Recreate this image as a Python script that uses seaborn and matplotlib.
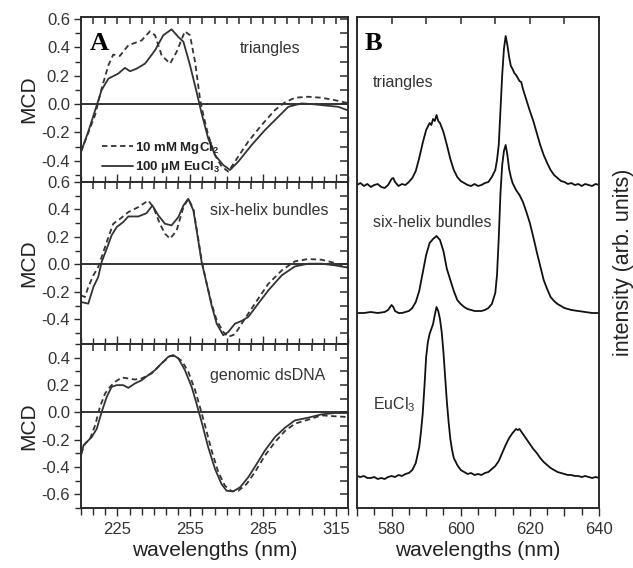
import numpy as np
import pandas as pd
import matplotlib
matplotlib.use("Agg")
import matplotlib.pyplot as plt
import seaborn as sns
from matplotlib.ticker import MultipleLocator, FixedLocator, FormatStrFormatter, FuncFormatter, NullFormatter

# ---------------- data: panel A (MCD) ----------------
tri_mg_wl = [210, 215.8, 218.5, 221.3, 223.3, 226, 229.5, 235, 238.4, 240.5, 243.2, 246.7, 249.4, 252.8,
             254.9, 257, 259, 260.4, 262.4, 265.2, 267.9, 270.7, 273.4, 278.9, 284.4, 289.9, 294, 298.1,
             303.6, 309.1, 314.6, 318.7, 320]
tri_mg_mcd = [-0.336, -0.077, 0.11, 0.275, 0.35, 0.34, 0.415, 0.45, 0.514, 0.486, 0.345, 0.286, 0.369, 0.514,
              0.486, 0.298, 0.04, -0.077, -0.218, -0.36, -0.44, -0.477, -0.406, -0.265, -0.148, -0.042, 0.012,
              0.045, 0.052, 0.045, 0.028, 0.012, 0.008]
tri_eu_wl = [210, 213, 216.5, 218.5, 221.3, 225.4, 228.1, 230.2, 232.9, 236.4, 240.5, 243.9, 247.3, 250.1,
             252.2, 254.9, 257.6, 259.7, 262.4, 265.2, 268.6, 271.4, 274.8, 280.3, 285.8, 291.3, 295.4,
             300.9, 306.4, 311.9, 316, 320]
tri_eu_mcd = [-0.336, -0.195, -0.007, 0.1, 0.18, 0.216, 0.256, 0.232, 0.25, 0.286, 0.38, 0.486, 0.528, 0.474,
              0.44, 0.275, 0.087, -0.066, -0.242, -0.36, -0.43, -0.465, -0.406, -0.289, -0.183, -0.089,
              -0.019, 0.005, -0.002, -0.012, -0.019, -0.045]

six_mg_wl = [210, 211.6, 213, 215.1, 217.1, 219.2, 221.3, 223.3, 226.1, 229.5, 233.6, 237.7, 239.8, 242.5,
             244.6, 246.7, 249.4, 252.2, 254.2, 256.3, 258.3, 259.7, 261.8, 263.8, 265.9, 268.6, 270.7,
             273.4, 276.2, 278.9, 283, 287.2, 292.7, 298.1, 303.6, 309.1, 314.6, 320]
six_mg_mcd = [-0.225, -0.238, -0.165, -0.08, -0.019, 0.09, 0.199, 0.296, 0.332, 0.381, 0.417, 0.465, 0.417,
              0.296, 0.223, 0.187, 0.247, 0.417, 0.478, 0.405, 0.187, 0.029, -0.141, -0.286, -0.407, -0.492,
              -0.528, -0.509, -0.432, -0.359, -0.25, -0.141, -0.044, 0.022, 0.039, 0.034, 0.01, -0.024]
six_eu_wl = [210, 213, 215.1, 217.1, 218.5, 220.6, 222.6, 224.7, 227.4, 229.5, 233.6, 237, 239.4, 241.9,
             244.6, 247.3, 250.1, 252.2, 254.2, 256.3, 258.3, 259.7, 261.8, 263.8, 265.9, 268.6, 270.7,
             273.4, 276.2, 278.9, 283, 287.2, 292.7, 298.1, 303.6, 309.1, 314.6, 320]
six_eu_mcd = [-0.274, -0.286, -0.165, -0.092, 0.017, 0.114, 0.211, 0.272, 0.308, 0.349, 0.349, 0.373, 0.429,
              0.356, 0.296, 0.284, 0.344, 0.429, 0.478, 0.393, 0.175, 0.017, -0.141, -0.298, -0.432, -0.516,
              -0.492, -0.432, -0.412, -0.383, -0.286, -0.189, -0.08, -0.015, 0.005, 0.005, -0.007, -0.024]

gen_mg_wl = [210, 211.6, 213.7, 215.8, 217.8, 219.9, 221.9, 224, 226.8, 229.5, 232.2, 235, 239.1, 243.2,
             246.7, 248.7, 251.5, 254.2, 257, 259, 261.1, 263.8, 266.6, 269.3, 272.1, 274.8, 278.2, 281.6,
             285.8, 289.9, 294, 298.1, 303.6, 309.1, 314.6, 320]
gen_mg_mcd = [-0.304, -0.23, -0.194, -0.096, 0.039, 0.137, 0.186, 0.223, 0.255, 0.248, 0.24, 0.248, 0.284,
              0.358, 0.412, 0.412, 0.377, 0.297, 0.162, 0.039, -0.096, -0.279, -0.439, -0.537, -0.578,
              -0.574, -0.525, -0.439, -0.316, -0.218, -0.137, -0.083, -0.054, -0.022, -0.029, -0.034]
gen_eu_wl = [210, 211, 213, 214.4, 216.5, 218.5, 220.6, 222.6, 224.7, 227.4, 229.5, 232.2, 235, 237.7, 240.5,
             243.2, 246, 248, 250.1, 252.8, 255.6, 257.6, 259.7, 262.4, 265.2, 267.9, 270, 272.7, 275.5,
             278.9, 282.4, 285.8, 289.9, 294, 298.1, 303.6, 309.1, 314.6, 320]
gen_eu_mcd = [-0.316, -0.243, -0.206, -0.181, -0.12, 0.002, 0.113, 0.186, 0.199, 0.199, 0.179, 0.211, 0.235,
              0.272, 0.309, 0.358, 0.407, 0.419, 0.395, 0.309, 0.186, 0.064, -0.071, -0.255, -0.414, -0.525,
              -0.574, -0.578, -0.549, -0.475, -0.377, -0.279, -0.181, -0.113, -0.059, -0.039, -0.015, -0.005,
              -0.005]

# ---------------- data: panel B (emission, arb. units above each baseline) ----------------
tri_em_wl = [570, 571, 572, 573, 574, 575, 576, 577, 578, 579, 580, 580.5, 581, 582, 583, 584, 585, 586, 587,
             588, 589, 590, 591, 591.5, 592, 592.5, 593, 593.5, 594, 595, 596, 597, 598, 599, 600, 601, 602,
             603, 604, 605, 606, 607, 608, 609, 610, 610.5, 611, 611.5, 612, 612.5, 613, 613.5, 614, 614.5,
             615, 615.5, 616, 616.5, 617, 617.5, 618, 619, 620, 621, 622, 623, 624, 625, 626, 627, 628, 629,
             630, 631, 632, 633, 634, 635, 636, 637, 638, 639, 640]
tri_em_int = [0, 2, -1, 1, -2, 0, 1, -2, -3, 0, 6, 7, 3, -1, 1, 0, 3, 7, 14, 27, 42, 55, 62, 60, 66, 64, 70, 64,
              62, 53, 40, 26, 15, 8, 4, 2, 0, -1, 1, -1, 0, 2, 3, 8, 15, 25, 40, 75, 110, 136, 149, 140, 128,
              119, 116, 112, 110, 107, 104, 103, 96, 85, 74, 64, 52, 40, 30, 22, 15, 10, 7, 4, 3, 1, 2, 0, 1,
              -1, 1, 0, -1, 1, 0]
six_em_wl = [570, 572, 574, 576, 578, 579, 580, 580.5, 581, 582, 583, 584, 585, 586, 587, 588, 589, 590, 591,
             592, 593, 594, 595, 596, 597, 598, 599, 600, 601, 602, 603, 604, 605, 606, 607, 608, 609, 610,
             610.5, 611, 611.5, 612, 612.5, 613, 613.5, 614, 614.5, 615, 616, 617, 618, 619, 620, 621, 622,
             623, 624, 625, 626, 627, 628, 629, 630, 632, 634, 636, 638, 640]
six_em_int = [0, 0, 1, 0, 1, 3, 8, 6, 2, 0, 0, 1, 2, 5, 11, 22, 40, 58, 70, 74, 77, 73, 62, 44, 33, 22, 13, 9,
              6, 4, 3, 2, 2, 2, 3, 5, 9, 20, 38, 75, 120, 148, 162, 168, 158, 144, 136, 130, 123, 118, 111,
              101, 90, 76, 61, 47, 33, 24, 16, 12, 9, 7, 5, 3, 2, 1, 0, 0]
eu_em_wl = [570, 571, 572, 573, 574, 575, 576, 577, 578, 579, 580, 581, 582, 583, 584, 585, 586, 587, 588,
            588.5, 589, 589.5, 590, 590.5, 591, 591.5, 592, 592.5, 593, 593.5, 594, 594.5, 595, 595.5, 596,
            596.5, 597, 597.5, 598, 599, 600, 601, 602, 603, 604, 605, 606, 607, 608, 609, 610, 611, 612, 613,
            614, 615, 615.5, 616, 616.5, 617, 618, 619, 620, 621, 622, 623, 624, 625, 626, 627, 628, 629, 630,
            631, 632, 633, 634, 635, 636, 637, 638, 639, 640]
eu_em_int = [1, 0, 1, -1, -1, 0, -2, -1, -2, 0, 1, 0, 2, 1, 3, 4, 7, 14, 30, 45, 63, 90, 120, 135, 143, 148,
             153, 162, 170, 166, 158, 145, 125, 100, 75, 55, 38, 27, 19, 12, 7, 5, 3, 4, 2, 3, 2, 4, 5, 8, 11,
             16, 24, 32, 39, 44, 46, 48, 47, 48, 43, 38, 33, 28, 24, 19, 15, 12, 9, 7, 5, 4, 3, 2, 2, 1, 1, 0,
             1, 0, -1, 0, -1]

# vertical stacking offsets of the emission spectra (arb. units)
off_tri, off_six, off_eu = 323, 195, 31

legend_labels = ["10 mM MgCl$_\\mathbf{2}$", "100 \u00b5M EuCl$_\\mathbf{3}$"]
cd_names = ["triangles", "six-helix bundles", "genomic dsDNA"]
em_names = ["triangles", "six-helix bundles", "EuCl$_3$"]

# ---------------- style ----------------
sns.set_theme(style="ticks")
plt.rcParams["font.family"] = ["Liberation Sans", "DejaVu Sans"]
plt.rcParams["mathtext.fontset"] = "custom"
plt.rcParams["mathtext.rm"] = "Liberation Sans"
plt.rcParams["mathtext.bf"] = "Liberation Sans:bold"
plt.rcParams["mathtext.it"] = "Liberation Sans:italic"
plt.rcParams["axes.unicode_minus"] = False

SP = "#2b2b2b"
CURVE = "#333333"
TXT = "#333333"

fig = plt.figure(figsize=(6.33, 5.68), dpi=100)
W, H = 633.0, 568.0


def frac(x0, y0, x1, y1):
    return [x0 / W, 1 - y1 / H, (x1 - x0) / W, (y1 - y0) / H]


def mirror_ticks(ax, xstep, ystep=None):
    """Inward ticks on the top (and right) spines via twin axes."""
    ty = ax.twiny()
    ty.set_xlim(ax.get_xlim())
    ty.xaxis.set_major_locator(MultipleLocator(xstep))
    ty.xaxis.set_major_formatter(NullFormatter())
    ty.tick_params(axis="x", which="both", top=True, bottom=False, direction="in", length=5,
                   width=1.1, colors=SP, labeltop=False)
    ty.tick_params(axis="y", left=False, right=False, labelleft=False, labelright=False)
    for s in ty.spines.values():
        s.set_visible(False)
    ty.grid(False)
    if ystep is not None:
        tx = ax.twinx()
        tx.set_ylim(ax.get_ylim())
        tx.yaxis.set_major_locator(MultipleLocator(ystep))
        tx.yaxis.set_major_formatter(NullFormatter())
        tx.tick_params(axis="y", which="both", right=True, left=False, direction="in", length=6,
                       width=1.1, colors=SP, labelright=False)
        for s in tx.spines.values():
            s.set_visible(False)
        tx.grid(False)


axA1 = fig.add_axes(frac(81, 17, 348, 182))
axA2 = fig.add_axes(frac(81, 182, 348, 344))
axA3 = fig.add_axes(frac(81, 344, 348, 508))
axB = fig.add_axes(frac(357, 17, 599, 508))

cd_sets = [
    (axA1, tri_mg_wl, tri_mg_mcd, tri_eu_wl, tri_eu_mcd, (-0.55, 0.615), [0.6, 0.4, 0.2, 0.0, -0.2, -0.4]),
    (axA2, six_mg_wl, six_mg_mcd, six_eu_wl, six_eu_mcd, (-0.58, 0.6001), [0.6, 0.4, 0.2, 0.0, -0.2, -0.4]),
    (axA3, gen_mg_wl, gen_mg_mcd, gen_eu_wl, gen_eu_mcd, (-0.7, 0.5), [0.4, 0.2, 0.0, -0.2, -0.4, -0.6]),
]

for i, (ax, wm, vm, we, ve, yl, yt) in enumerate(cd_sets):
    ax.set_facecolor("white")
    ax.axhline(0, color="#111111", lw=1.2, zorder=1)
    sns.lineplot(x=wm, y=vm, ax=ax, color=CURVE, lw=1.3, linestyle=(0, (3.0, 2.0)),
                 estimator=None, sort=False, legend=False)
    sns.lineplot(x=we, y=ve, ax=ax, color=CURVE, lw=1.3, estimator=None, sort=False, legend=False)
    ax.set_xlim(210, 320)
    ax.set_ylim(*yl)
    ax.yaxis.set_major_locator(FixedLocator(yt))
    ax.yaxis.set_minor_locator(MultipleLocator(0.1))
    ax.yaxis.set_major_formatter(FormatStrFormatter("%.1f"))
    ax.xaxis.set_major_locator(FixedLocator([225, 255, 285, 315]))
    ax.xaxis.set_minor_locator(MultipleLocator(5))
    ax.tick_params(axis="y", which="both", direction="out", left=True, right=False, colors=SP,
                   labelcolor=TXT, labelsize=12, pad=3, width=1.0)
    ax.tick_params(axis="y", which="major", length=5)
    ax.tick_params(axis="y", which="minor", length=4)
    last = (i == 2)
    ax.tick_params(axis="x", which="both", direction="out" if last else "in", bottom=True, top=False,
                   labelbottom=last, colors=SP, labelcolor=TXT, labelsize=12, pad=4, width=1.0)
    ax.tick_params(axis="x", which="major", length=6)
    ax.tick_params(axis="x", which="minor", length=5 if last else 4)
    for s in ax.spines.values():
        s.set_color(SP)
        s.set_linewidth(1.4)
    ax.set_xlabel("")
    ax.set_ylabel("MCD", fontsize=15, color="#222222", labelpad=2)

axA3.set_xlabel("wavelengths (nm)", fontsize=15, color="#222222", labelpad=3)

# panel A texts
axA1.text(0.034, 0.80, "A", transform=axA1.transAxes, fontsize=19, fontweight="bold",
          family=["Liberation Serif"], color="black", va="baseline", ha="left", zorder=5)
axA1.text(0.596, 0.782, cd_names[0], transform=axA1.transAxes, fontsize=11.5, color=TXT,
          va="baseline", ha="left")
axA2.text(0.483, 0.796, cd_names[1], transform=axA2.transAxes, fontsize=11.5, color=TXT,
          va="baseline", ha="left")
axA3.text(0.483, 0.78, cd_names[2], transform=axA3.transAxes, fontsize=11.5, color=TXT,
          va="baseline", ha="left")

# legend of panel A
cd_lines = [l for l in axA1.get_lines() if len(l.get_xdata()) > 2]
leg = axA1.legend(handles=[cd_lines[0], cd_lines[1]], labels=legend_labels, loc="lower left",
                  bbox_to_anchor=(0.08, 0.04), frameon=False, handlelength=2.3, handletextpad=0.15,
                  labelspacing=0.25, borderpad=0, borderaxespad=0,
                  prop={"size": 9.5, "weight": "bold"})
for t in leg.get_texts():
    t.set_color("#222222")

# ---------------- panel B ----------------
axB.set_facecolor("white")
for wl, it, off in [(tri_em_wl, tri_em_int, off_tri), (six_em_wl, six_em_int, off_six),
                    (eu_em_wl, eu_em_int, off_eu)]:
    sns.lineplot(x=wl, y=np.asarray(it) + off, ax=axB, color="#111111", lw=1.3,
                 estimator=None, sort=False, legend=False)
axB.set_xlim(570, 640)
axB.set_ylim(0, 491)
axB.xaxis.set_major_locator(MultipleLocator(10))
axB.xaxis.set_minor_locator(MultipleLocator(5))
axB.xaxis.set_major_formatter(FuncFormatter(lambda v, p: f"{v:.0f}" if int(round(v)) % 20 == 0 else ""))
axB.tick_params(axis="x", which="both", direction="out", bottom=True, top=False, colors=SP,
                labelcolor=TXT, labelsize=12, pad=4, width=1.0)
axB.tick_params(axis="x", which="major", length=6)
axB.tick_params(axis="x", which="minor", length=5)
axB.tick_params(axis="y", which="both", left=False, right=False, labelleft=False, labelright=False)
for s in axB.spines.values():
    s.set_color(SP)
    s.set_linewidth(1.4)
axB.set_xlabel("wavelengths (nm)", fontsize=15, color="#222222", labelpad=3)
axB.yaxis.set_label_position("right")
axB.set_ylabel("intensity (arb. units)", fontsize=15.5, color="#222222", labelpad=10)

axB.text(0.033, 0.933, "B", transform=axB.transAxes, fontsize=19, fontweight="bold",
         family=["Liberation Serif"], color="black", va="baseline", ha="left")
axB.text(0.066, 0.857, em_names[0], transform=axB.transAxes, fontsize=11.5, color=TXT,
         va="baseline", ha="left")
axB.text(0.066, 0.572, em_names[1], transform=axB.transAxes, fontsize=11.5, color=TXT,
         va="baseline", ha="left")
axB.text(0.066, 0.20, em_names[2], transform=axB.transAxes, fontsize=11.5, color=TXT,
         va="baseline", ha="left")

# mirrored inward ticks
for ax in (axA1, axA2, axA3):
    mirror_ticks(ax, 5, 0.1)
mirror_ticks(axB, 10, None)

fig.savefig("out.png", dpi=100, facecolor="white")
